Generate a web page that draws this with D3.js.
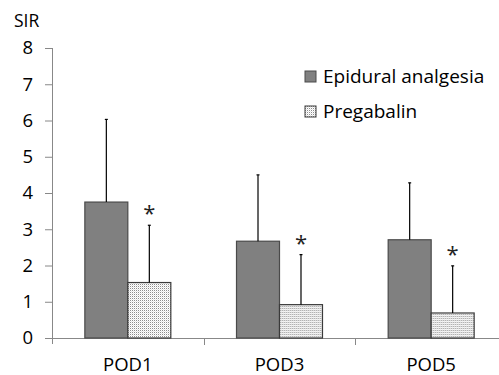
<!DOCTYPE html>
<html>
<head>
<meta charset="utf-8">
<script src="https://cdn.jsdelivr.net/npm/d3@7"></script>
<style>
  body { margin: 0; background: #fff; }
  svg { display: block; font-family: "Open Sans", sans-serif; }
</style>
</head>
<body>
<script>
// data
const categories = ['POD1', 'POD3', 'POD5'];
const seriesNames = ['Epidural analgesia', 'Pregabalin'];
const epiduralMean = [3.75, 2.67, 2.71];
const epiduralSD = [2.28, 1.83, 1.57];
const pregabalinMean = [1.53, 0.92, 0.69];
const pregabalinSD = [1.58, 1.38, 1.3];
const significant = [true, true, true];
const yTicks = [0, 1, 2, 3, 4, 5, 6, 7, 8];

const W = 499, H = 375;
const svg = d3.select('body').append('svg')
    .attr('width', W)
    .attr('height', H);

// dotted fill for the pregabalin bars
const pat = svg.append('defs').append('pattern')
    .attr('id', 'dots')
    .attr('width', 2)
    .attr('height', 2)
    .attr('patternUnits', 'userSpaceOnUse');
pat.append('rect').attr('width', 2).attr('height', 2).attr('fill', '#fff');
pat.append('rect').attr('width', 1).attr('height', 1).attr('fill', '#8c8c8c');
pat.append('rect').attr('x', 1).attr('y', 1).attr('width', 1).attr('height', 1).attr('fill', '#e4e4e4');

const x0 = d3.scaleBand().domain(categories).range([52, 507]);
const x1 = d3.scaleBand().domain(seriesNames).range([0, x0.bandwidth()]).paddingOuter(0.764);
const y = d3.scaleLinear().domain([0, 8]).range([338, 48]);

const axisColor = '#888';

// y axis
const yAxis = svg.append('g')
    .attr('transform', 'translate(52,0)')
    .call(d3.axisLeft(y).tickValues(yTicks).tickSize(7));
yAxis.select('.domain').remove();
yAxis.selectAll('.tick line').attr('stroke', axisColor);
yAxis.selectAll('.tick text')
    .attr('x', -19)
    .attr('font-size', 18.5)
    .attr('fill', '#000')
    .attr('font-family', '"Open Sans", sans-serif');
svg.append('line')
    .attr('x1', 52.5).attr('x2', 52.5)
    .attr('y1', y(8)).attr('y2', y(0) + 6)
    .attr('stroke', axisColor);

// x axis baseline + ticks between categories
svg.append('line')
    .attr('x1', 45).attr('x2', 507)
    .attr('y1', y(0) + 0.5).attr('y2', y(0) + 0.5)
    .attr('stroke', axisColor);
svg.selectAll('.btick')
    .data(categories.slice(1))
    .join('line')
    .attr('x1', d => Math.round(x0(d)) + 0.5)
    .attr('x2', d => Math.round(x0(d)) + 0.5)
    .attr('y1', y(0)).attr('y2', y(0) + 7)
    .attr('stroke', axisColor);

const xAxis = svg.append('g')
    .attr('transform', `translate(0,${y(0)})`)
    .call(d3.axisBottom(x0).tickSize(0));
xAxis.select('.domain').remove();
xAxis.selectAll('.tick text')
    .attr('y', 33)
    .attr('dy', null)
    .attr('font-size', 18.5)
    .attr('fill', '#000')
    .attr('font-family', '"Open Sans", sans-serif');

// axis title
svg.append('text')
    .attr('x', 14).attr('y', 27)
    .attr('font-size', 17.5)
    .text('SIR');

// bars
const rows = categories.map((c, i) => ({
  cat: c,
  vals: [
    { s: seriesNames[0], m: epiduralMean[i], sd: epiduralSD[i] },
    { s: seriesNames[1], m: pregabalinMean[i], sd: pregabalinSD[i], sig: significant[i] }
  ]
}));

const groups = svg.selectAll('.grp')
    .data(rows)
    .join('g')
    .attr('transform', d => `translate(${x0(d.cat)},0)`);

const fills = { 'Epidural analgesia': '#808080', 'Pregabalin': 'url(#dots)' };
const strokes = { 'Epidural analgesia': '#4a4a4a', 'Pregabalin': '#3a3a3a' };

groups.selectAll('rect')
    .data(d => d.vals)
    .join('rect')
    .attr('x', d => x1(d.s))
    .attr('y', d => y(d.m))
    .attr('width', x1.bandwidth())
    .attr('height', d => y(0) - y(d.m))
    .attr('fill', d => fills[d.s])
    .attr('stroke', d => strokes[d.s])
    .attr('stroke-width', 1.2);

// error bars (upper half only)
groups.selectAll('.err')
    .data(d => d.vals)
    .join('line')
    .attr('x1', d => x1(d.s) + x1.bandwidth() / 2)
    .attr('x2', d => x1(d.s) + x1.bandwidth() / 2)
    .attr('y1', d => y(d.m))
    .attr('y2', d => y(d.m + d.sd))
    .attr('stroke', '#000')
    .attr('stroke-width', 1.2);
groups.selectAll('.cap')
    .data(d => d.vals)
    .join('line')
    .attr('x1', d => x1(d.s) + x1.bandwidth() / 2 - 1.5)
    .attr('x2', d => x1(d.s) + x1.bandwidth() / 2 + 1.5)
    .attr('y1', d => y(d.m + d.sd))
    .attr('y2', d => y(d.m + d.sd))
    .attr('stroke', '#000')
    .attr('stroke-width', 1.2);

// significance stars
groups.selectAll('.star')
    .data(d => d.vals.filter(v => v.sig))
    .join('text')
    .attr('x', d => x1(d.s) + x1.bandwidth() / 2)
    .attr('y', d => y(d.m + d.sd) - 4)
    .attr('text-anchor', 'middle')
    .attr('font-size', 22)
    .attr('fill', '#222')
    .text('*');

// legend
const legend = svg.selectAll('.leg')
    .data(seriesNames)
    .join('g')
    .attr('transform', (d, i) => `translate(305,${71 + i * 35})`);
legend.append('rect')
    .attr('width', 11).attr('height', 11)
    .attr('fill', d => fills[d])
    .attr('stroke', d => strokes[d]);
legend.append('text')
    .attr('x', 18).attr('y', 12)
    .attr('font-size', 19)
    .text(d => d);
</script>
</body>
</html>
